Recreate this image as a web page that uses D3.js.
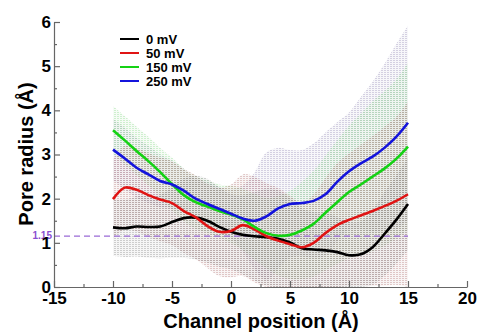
<!DOCTYPE html>
<html>
<head>
<meta charset="utf-8">
<script src="https://cdn.jsdelivr.net/npm/d3@7"></script>
<style>
    body { margin: 0; background: #fff; }
    text { font-family: "Liberation Sans", Arial, sans-serif; font-weight: bold; }
    .axis path, .axis line { stroke: #666; stroke-width: 1.2; }
    .axis text { font-size: 17px; fill: #000; }
</style>
</head>
<body>
<script>
// channel positions (Å)
var positions = [-10, -9, -8, -7, -6, -5, -4, -3, -2, -1, 0, 1, 2, 3, 4, 5,
                 6, 7, 8, 9, 10, 11, 12, 13, 14, 15];

// mean pore radius for every voltage (Å)
var radius0 = [1.35, 1.33, 1.37, 1.36, 1.37, 1.47, 1.56, 1.57, 1.50, 1.36, 1.25,
               1.18, 1.15, 1.13, 1.09, 1.01, 0.88, 0.85, 0.83, 0.79, 0.72, 0.74,
               0.90, 1.20, 1.52, 1.88];
var radius50 = [1.99, 2.25, 2.20, 2.08, 1.98, 1.90, 1.72, 1.58, 1.38, 1.25, 1.27,
                1.40, 1.30, 1.15, 1.05, 0.97, 0.90, 1.00, 1.22, 1.40, 1.52, 1.62,
                1.72, 1.83, 1.95, 2.10];
var radius150 = [3.55, 3.32, 3.08, 2.85, 2.60, 2.33, 2.08, 1.92, 1.82, 1.72, 1.64,
                 1.53, 1.36, 1.22, 1.16, 1.18, 1.28, 1.43, 1.68, 1.92, 2.15, 2.32,
                 2.50, 2.68, 2.90, 3.18];
var radius250 = [3.11, 2.91, 2.70, 2.55, 2.40, 2.32, 2.18, 2.00, 1.88, 1.77, 1.66,
                 1.55, 1.50, 1.60, 1.78, 1.88, 1.90, 1.95, 2.10, 2.38, 2.62, 2.80,
                 2.95, 3.15, 3.40, 3.72];

// standard deviations (error bars)
var sd0 = [0.65, 0.65, 0.68, 0.70, 0.72, 0.80, 0.90, 0.95, 0.95, 0.90, 0.85, 0.90,
           1.00, 1.10, 1.10, 1.00, 0.90, 0.85, 0.85, 0.80, 0.75, 0.75, 0.85, 0.95,
           1.00, 1.05];
var sd50 = [0.90, 0.95, 0.95, 0.95, 0.95, 0.95, 0.95, 0.95, 0.95, 1.00, 1.05, 1.15,
            1.20, 1.20, 1.20, 1.10, 1.00, 1.10, 1.25, 1.40, 1.50, 1.60, 1.70, 1.80,
            1.90, 2.10];
var sd150 = [0.55, 0.55, 0.55, 0.55, 0.55, 0.60, 0.60, 0.60, 0.60, 0.60, 0.65, 0.70,
             0.75, 0.80, 0.90, 1.00, 1.10, 1.20, 1.30, 1.40, 1.50, 1.60, 1.70, 1.75,
             1.80, 1.90];
var sd250 = [0.70, 0.70, 0.68, 0.65, 0.60, 0.55, 0.50, 0.45, 0.50, 0.50, 0.55, 0.75,
             1.10, 1.45, 1.37, 1.22, 1.20, 1.30, 1.40, 1.35, 1.33, 1.50, 1.70, 1.90,
             2.10, 2.20];

// legend names and colours
var seriesNames = ["0 mV", "50 mV", "150 mV", "250 mV"];
var seriesColors = ["#000000", "#e01414", "#14d214", "#1414dc"];
var bandColors = ["#8a8a8a", "#b47a7a", "#8fd88f", "#9a90b8"];

// axis ticks
var xTicks = [-15, -10, -5, 0, 5, 10, 15, 20];
var xMinor = [-12.5, -7.5, -2.5, 2.5, 7.5, 12.5, 17.5];
var yTicks = [0, 1, 2, 3, 4, 5, 6];
var yMinor = [0.5, 1.5, 2.5, 3.5, 4.5, 5.5];

// reference line
var refRadius = 1.15;

// size of svg
var fullWidth = 478;
var fullHeight = 332;
var margin = {top: 22, right: 11, bottom: 45, left: 54};
var width = fullWidth - margin.left - margin.right;
var height = fullHeight - margin.top - margin.bottom;

var svg = d3.select("body")
            .append("svg")
            .attr("width", fullWidth)
            .attr("height", fullHeight);

var xScale = d3.scaleLinear().domain([-15, 20]).range([margin.left, margin.left + width]);
var yScale = d3.scaleLinear().domain([0, 6]).range([margin.top + height, margin.top]);

// plain hyphen for negative tick labels
var plainFormat = function(d) { return String(d); };

// build series from the arrays
var means = [radius0, radius50, radius150, radius250];
var sds = [sd0, sd50, sd150, sd250];
var series = means.map(function(m, s) {
    return positions.map(function(p, i) {
        return {x: p, y: m[i], sd: sds[s][i]};
    });
});

// dotted texture for error bands
var defs = svg.append("defs");
bandColors.forEach(function(c, i) {
    var pat = defs.append("pattern")
                  .attr("id", "band" + i)
                  .attr("width", 3)
                  .attr("height", 2)
                  .attr("patternUnits", "userSpaceOnUse");
    pat.append("rect").attr("width", 3).attr("height", 2)
       .attr("fill", c).attr("opacity", 0.08);
    pat.append("rect").attr("width", 2).attr("height", 1)
       .attr("fill", c).attr("opacity", 0.38);
});

var curve = d3.curveCatmullRom.alpha(0.5);

var area = d3.area()
             .curve(curve)
             .x(function(d) { return xScale(d.x); })
             .y0(function(d) { return yScale(Math.max(0, d.y - d.sd)); })
             .y1(function(d) { return yScale(d.y + d.sd); });

// draw bands (widest at the back)
[3, 2, 1, 0].forEach(function(i) {
    svg.append("path")
       .datum(series[i])
       .attr("d", area)
       .attr("fill", "url(#band" + i + ")");
});

// dashed reference line
svg.append("line")
   .attr("x1", xScale(-15))
   .attr("x2", xScale(15))
   .attr("y1", yScale(refRadius))
   .attr("y2", yScale(refRadius))
   .attr("stroke", "#9a6ad6")
   .attr("stroke-width", 1.3)
   .attr("stroke-dasharray", "6,4");

svg.append("text")
   .attr("x", margin.left - 2)
   .attr("y", yScale(refRadius) - 1)
   .attr("dy", "0.35em")
   .style("text-anchor", "end")
   .style("font-size", "10px")
   .style("fill", "#8a4fd0")
   .text(refRadius.toFixed(2));

// mean lines
var line = d3.line()
             .curve(curve)
             .x(function(d) { return xScale(d.x); })
             .y(function(d) { return yScale(d.y); });

series.forEach(function(s, i) {
    svg.append("path")
       .datum(s)
       .attr("d", line)
       .attr("fill", "none")
       .attr("stroke", seriesColors[i])
       .attr("stroke-width", 2.6);
});

// axes with inward ticks
svg.append("g")
   .attr("class", "axis")
   .attr("transform", "translate(0," + (margin.top + height) + ")")
   .call(d3.axisBottom(xScale).tickValues(xTicks).tickSizeInner(-6)
           .tickSizeOuter(0).tickPadding(5).tickFormat(plainFormat));

svg.append("g")
   .attr("class", "axis")
   .attr("transform", "translate(0," + (margin.top + height) + ")")
   .call(d3.axisBottom(xScale).tickValues(xMinor).tickSize(-3).tickFormat(""))
   .select(".domain").remove();

svg.append("g")
   .attr("class", "axis")
   .attr("transform", "translate(" + margin.left + ",0)")
   .call(d3.axisLeft(yScale).tickValues(yTicks).tickSizeInner(-6)
           .tickSizeOuter(0).tickPadding(3).tickFormat(plainFormat));

svg.append("g")
   .attr("class", "axis")
   .attr("transform", "translate(" + margin.left + ",0)")
   .call(d3.axisLeft(yScale).tickValues(yMinor).tickSize(-3).tickFormat(""))
   .select(".domain").remove();

// axis titles
svg.append("text")
   .attr("x", 261)
   .attr("y", 328)
   .style("text-anchor", "middle")
   .style("font-size", "20px")
   .text("Channel position (Å)");

svg.append("text")
   .attr("transform", "rotate(-90)")
   .attr("x", -154)
   .attr("y", 33)
   .style("text-anchor", "middle")
   .style("font-size", "20px")
   .text("Pore radius (Å)");

// legend
var legend = svg.selectAll(".legend")
                .data(seriesNames)
                .enter()
                .append("g")
                .attr("class", "legend")
                .attr("transform", function(d, i) {
                    return "translate(120," + (39 + i * 14) + ")";
                });

legend.append("line")
      .attr("x1", 0)
      .attr("x2", 19)
      .attr("stroke", function(d, i) { return seriesColors[i]; })
      .attr("stroke-width", 2);

legend.append("text")
      .attr("x", 26)
      .attr("dy", "0.35em")
      .style("font-size", "13px")
      .text(function(d) { return d; });
</script>
</body>
</html>
